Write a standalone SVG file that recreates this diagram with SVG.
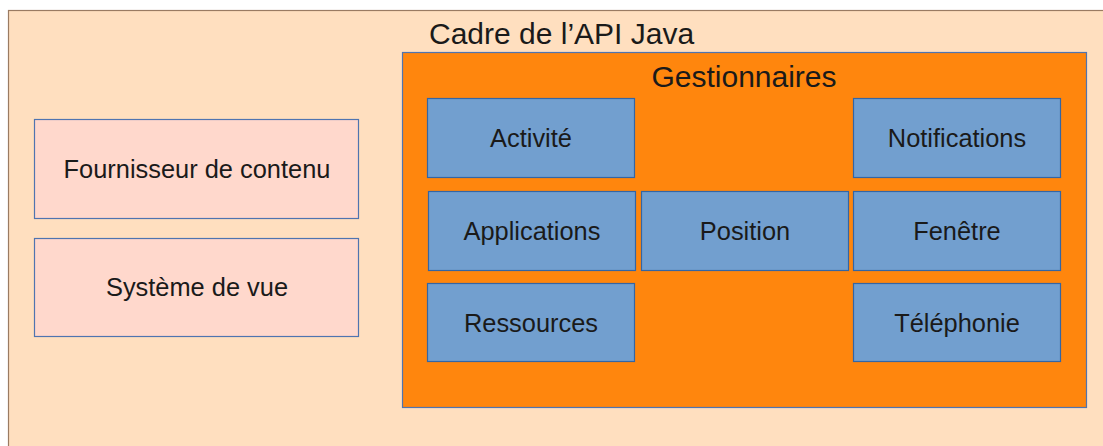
<svg xmlns="http://www.w3.org/2000/svg" width="1103" height="446" viewBox="0 0 1103 446">
  <style>
    .lbl { font-family: "Liberation Sans", Arial, sans-serif; fill: #1a1a1a; text-anchor: middle; }
    .box text { font-size: 25.4px; }
    .blue rect { fill: #729fcf; stroke: #3465a4; stroke-width: 1.2; }
    .pink rect { fill: #ffd8cc; stroke: #4f74b0; stroke-width: 1.2; }
  </style>
  <rect width="1103" height="446" fill="#ffffff"/>

  <!-- outer frame -->
  <g id="frame">
    <rect x="8.5" y="10.5" width="1110" height="450" fill="#ffdfbf" stroke="#9a7b62" stroke-width="1.2"/>
    <text class="lbl" x="429" y="44" style="font-size:30px;text-anchor:start">Cadre de l’API Java</text>
  </g>

  <!-- left column -->
  <g id="fournisseur" class="box pink">
    <rect x="34.5" y="119.5" width="324" height="99"/>
    <text class="lbl" x="197" y="177.5">Fournisseur de contenu</text>
  </g>
  <g id="systeme-vue" class="box pink">
    <rect x="34.5" y="238.5" width="324" height="98"/>
    <text class="lbl" x="197" y="296">Système de vue</text>
  </g>

  <!-- managers container -->
  <g id="gestionnaires">
    <rect x="402.5" y="52.5" width="684" height="355" fill="#ff860d" stroke="#4f74b0" stroke-width="1.2"/>
    <text class="lbl" x="744" y="87" style="font-size:30px">Gestionnaires</text>
  </g>

  <g id="activite" class="box blue">
    <rect x="427.5" y="98.5" width="207" height="79"/>
    <text class="lbl" x="531" y="146.7">Activité</text>
  </g>
  <g id="notifications" class="box blue">
    <rect x="853.5" y="98.5" width="207" height="79"/>
    <text class="lbl" x="957" y="146.7">Notifications</text>
  </g>
  <g id="applications" class="box blue">
    <rect x="428.5" y="191.5" width="207" height="79"/>
    <text class="lbl" x="532" y="239.5">Applications</text>
  </g>
  <g id="position" class="box blue">
    <rect x="641.5" y="191.5" width="207" height="79"/>
    <text class="lbl" x="745" y="239.5">Position</text>
  </g>
  <g id="fenetre" class="box blue">
    <rect x="853.5" y="191.5" width="207" height="79"/>
    <text class="lbl" x="957" y="239.5">Fenêtre</text>
  </g>
  <g id="ressources" class="box blue">
    <rect x="427.5" y="283.5" width="207" height="78"/>
    <text class="lbl" x="531" y="331.5">Ressources</text>
  </g>
  <g id="telephonie" class="box blue">
    <rect x="853.5" y="283.5" width="207" height="78"/>
    <text class="lbl" x="957" y="331.5">Téléphonie</text>
  </g>

  <g id="connectors"/>
</svg>
